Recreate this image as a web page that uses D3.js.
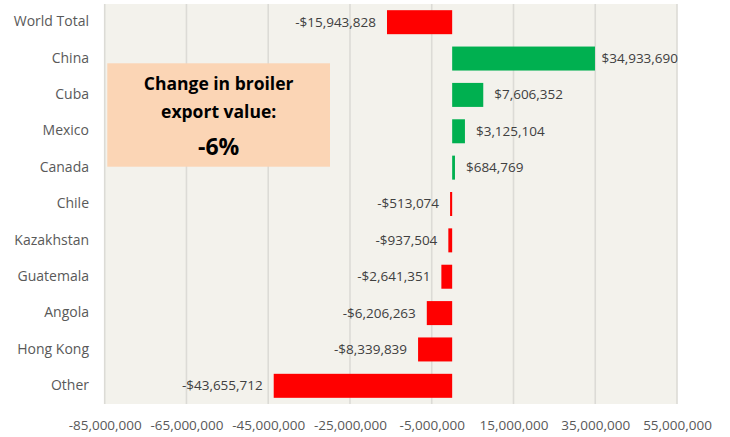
<!DOCTYPE html>
<html>
<head>
<meta charset="utf-8">
<script src="https://cdn.jsdelivr.net/npm/d3@7"></script>
<style>
  html, body { margin: 0; padding: 0; background: #ffffff; }
  svg { display: block; }
  text { font-family: "Open Sans", Lato, sans-serif; }
</style>
</head>
<body>
<svg id="chart" width="730" height="437"></svg>
<script>
// Change in broiler export value by destination
const categories = ["World Total", "China", "Cuba", "Mexico", "Canada", "Chile",
  "Kazakhstan", "Guatemala", "Angola", "Hong Kong", "Other"];
const values = [-15943828, 34933690, 7606352, 3125104, 684769, -513074,
  -937504, -2641351, -6206263, -8339839, -43655712];
const tickValues = [-85000000, -65000000, -45000000, -25000000, -5000000,
  15000000, 35000000, 55000000];
const calloutLines = ["Change in broiler", "export value:", "-6%"];

const svg = d3.select("#chart");
const plot = { left: 104.7, right: 677, top: 4, bottom: 404 };

const x = d3.scaleLinear()
  .domain([-85000000, 55000000])
  .range([plot.left, plot.right]);

const y = d3.scaleBand()
  .domain(categories)
  .range([plot.top, plot.bottom])
  .paddingInner(0.34)
  .paddingOuter(0.17);

// plot background
svg.append("rect")
  .attr("x", plot.left).attr("y", plot.top)
  .attr("width", plot.right - plot.left)
  .attr("height", plot.bottom - plot.top)
  .attr("fill", "#f3f2ec");

// vertical gridlines
svg.append("g")
  .selectAll("line")
  .data(tickValues)
  .join("line")
  .attr("x1", d => x(d)).attr("x2", d => x(d))
  .attr("y1", plot.top).attr("y2", plot.bottom)
  .attr("stroke", "#dcdbd6")
  .attr("stroke-width", 1.6);

// x axis tick labels
const fmtTick = d3.format(",");
const xAxis = d3.axisBottom(x)
  .tickValues(tickValues)
  .tickSize(0)
  .tickPadding(0)
  .tickFormat(d => fmtTick(d).replace("−", "-"));
const gx = svg.append("g")
  .attr("transform", `translate(0, ${plot.bottom})`)
  .call(xAxis);
gx.select(".domain").remove();
gx.selectAll("text")
  .attr("y", 25.5)
  .attr("dy", "0")
  .attr("fill", "#595959")
  .style("font-size", "13.5px");

// category labels
const yAxis = d3.axisLeft(y).tickSize(0).tickPadding(0);
const gy = svg.append("g")
  .attr("transform", `translate(89, 0)`)
  .call(yAxis);
gy.select(".domain").remove();
gy.selectAll("text")
  .attr("x", 0)
  .attr("dy", "0.3em")
  .attr("fill", "#595959")
  .style("font-size", "14px");

// bars
const rows = categories.map((c, i) => ({ c, v: values[i] }));
svg.append("g")
  .selectAll("rect")
  .data(rows)
  .join("rect")
  .attr("x", d => Math.min(x(0), x(d.v)))
  .attr("y", d => y(d.c))
  .attr("width", d => Math.max(1, Math.abs(x(d.v) - x(0))))
  .attr("height", y.bandwidth())
  .attr("fill", d => d.v >= 0 ? "#00b050" : "#ff0000");

// value labels, kept inside the plot area on the right
const fmtMoney = v => (v < 0 ? "-$" : "$") + d3.format(",")(Math.abs(v));
const gap = 11;
svg.append("g")
  .selectAll("text")
  .data(rows)
  .join("text")
  .attr("y", d => y(d.c) + y.bandwidth() / 2)
  .attr("dy", "0.33em")
  .attr("fill", "#404040")
  .style("font-size", "13.5px")
  .text(d => fmtMoney(d.v))
  .each(function (d) {
    const t = d3.select(this);
    if (d.v >= 0) {
      const w = this.getComputedTextLength();
      const px = Math.min(Math.max(x(d.v), x(0) + 1) + gap, plot.right + 1 - w);
      t.attr("x", px).attr("text-anchor", "start");
    } else {
      t.attr("x", Math.min(x(d.v), x(0) - 1) - gap).attr("text-anchor", "end");
    }
  });

// callout box
const box = { x: 107.3, y: 63.3, w: 222.7, h: 103.4 };
svg.append("rect")
  .attr("x", box.x).attr("y", box.y)
  .attr("width", box.w).attr("height", box.h)
  .attr("fill", "#fbd5b5");
const cx = box.x + box.w / 2;
const callout = svg.append("g").attr("text-anchor", "middle").attr("fill", "#000000");
callout.append("text")
  .attr("x", cx).attr("y", box.y + 27)
  .style("font-size", "17.5px").style("font-weight", "bold")
  .text(calloutLines[0]);
callout.append("text")
  .attr("x", cx).attr("y", box.y + 55)
  .style("font-size", "17.5px").style("font-weight", "bold")
  .text(calloutLines[1]);
callout.append("text")
  .attr("x", cx).attr("y", box.y + 92)
  .style("font-size", "23px").style("font-weight", "bold")
  .text(calloutLines[2]);
</script>
</body>
</html>
